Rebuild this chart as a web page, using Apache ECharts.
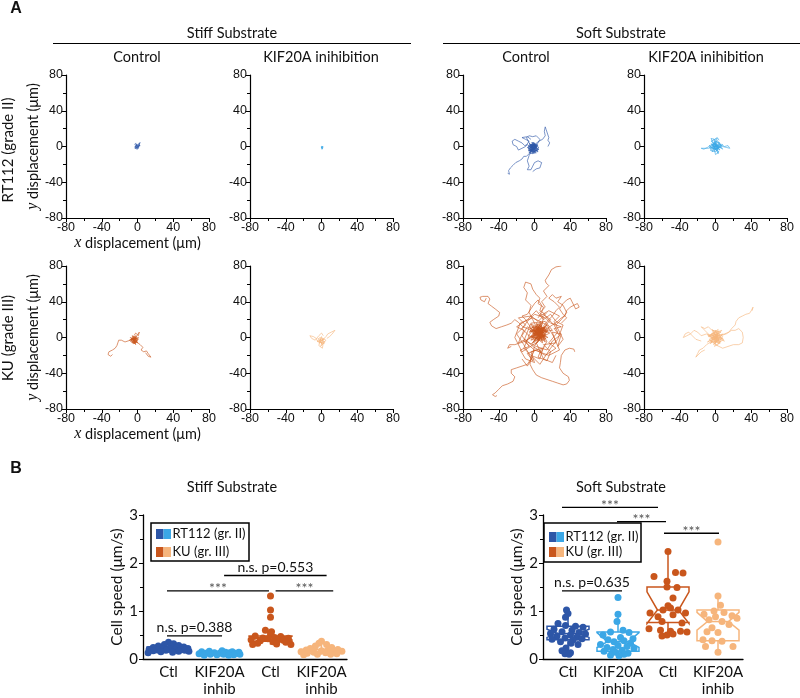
<!DOCTYPE html>
<html><head><meta charset="utf-8">
<script src="https://cdn.jsdelivr.net/npm/echarts@6/dist/echarts.min.js"></script>
<style>html,body{margin:0;padding:0;background:#fff}#c{width:800px;height:698px}</style>
</head><body><div id="c"></div>
<script>
// ---------------- Colours ----------------
const cDarkBlue = '#2d56a7', cLightBlue = '#3ba7e6', cDarkOrange = '#c9561c', cLightOrange = '#f6b57c';

// ---------------- Panel A: trajectories (x, y in µm) ----------------
const stiffCtlRT112 = [
  [[0,0],[1,2],[-1,3],[-2,1],[-1,-2],[1,-1],[2,1],[3,3],[2,4],[1,2],[0,-1],[-2,-2],[-3,0],[-2,2],[0,1]],
  [[0,0],[2,-1],[3,1],[1,3],[-1,2],[-3,-1],[-1,-3],[1,-2],[3,0],[2,2],[4,4],[3,5]],
  [[0,0],[-2,0],[-3,-2],[-1,-1],[0,-3],[2,-2],[1,0],[-1,1],[-3,2],[-2,4]]
];
const stiffKifRT112 = [
  [[0,0],[1,1],[0,2],[-1,1],[-1,-1],[1,-1],[2,0],[1,2],[-1,0],[0,-2],[1,-3]],
  [[0,0],[-1,2],[1,1],[2,-1],[0,-1],[-2,0],[-1,-2],[1,-2],[2,1]]
];
const softCtlRT112 = [
  [[-2,-2],[2,1],[-5,-4],[1,-6],[-6,1],[3,-2],[-3,3],[0,-7],[-7,-3],[2,2],[-4,-6],[4,-4],[-1,4],[-6,-7],[3,0],[-5,2],[1,-4],[-3,-1],[4,3],[-7,0],[0,-3]],
  [[-1,-3],[-5,1],[3,-5],[-3,5],[2,-1],[-7,-5],[1,3],[-2,-8],[5,-1],[-6,3],[0,-2],[-4,-5],[4,1],[-2,2],[-5,-8],[2,-7],[-8,-1],[1,0]],
  [[-2,-1],[1,-5],[-4,2],[3,1],[-6,-5],[0,4],[-3,-7],[5,-3],[-5,-1],[2,-3],[-1,5],[-7,-2],[4,-6],[-3,1]],
  [[-2,-2],[-6,-8],[-9,-11],[-12,-11],[-14,-14],[-17,-16],[-19,-15],[-21,-18],[-24,-21],[-25,-20],[-27,-24],[-29,-27],[-28,-31],[-30,-30]],
  [[0,2],[5,6],[7,5],[9,8],[12,12],[10,14],[11,17],[12,22],[13,19],[14,18],[16,10],[15,7],[17,4],[17,2],[15,0]],
  [[-2,-2],[-8,2],[-11,1],[-14,4],[-18,6],[-22,8],[-25,6],[-24,2],[-20,0],[-18,-4],[-14,-2],[-10,0],[-6,6],[-10,8],[-14,10],[-8,11],[-4,8]],
  [[-2,-2],[-6,-10],[-8,-16],[-6,-22],[-8,-26],[-4,-26],[-2,-22],[0,-18],[4,-16],[8,-18],[10,-20],[6,-24],[2,-25],[-2,-28]],
  [[-2,-2],[-6,4],[-9,10],[-6,12],[-2,11],[2,12],[4,10],[6,8],[4,4]]
];
const softKifRT112 = [
  [[0,0],[4,2],[-3,-3],[6,-1],[-5,3],[2,-5],[-1,6],[5,4],[-6,-2],[3,-3],[-2,8],[7,1],[-4,-6],[1,3],[-7,1],[4,-6],[0,-9],[-3,4],[8,-3],[2,7]],
  [[1,-1],[-4,2],[5,-4],[-2,5],[3,1],[-6,-4],[0,-6],[6,3],[-3,-1],[2,9],[-5,6],[4,-2],[-1,-3],[8,2],[-7,-1],[1,5],[3,-8],[-2,1]],
  [[0,0],[-4,-1],[-8,-2],[-12,-2],[-16,-2],[-13,-3],[-9,-1],[-6,1]],
  [[0,0],[4,-1],[8,0],[12,-1],[16,-2],[17,0],[14,1],[10,0],[7,2]],
  [[0,0],[-3,5],[-5,9],[-4,11],[-1,8],[2,10],[4,7]]
];
const stiffCtlKU = [
  [[-4,-3],[-1,-1],[-7,-5],[-2,-6],[-8,0],[0,-3],[-5,1],[-3,-7],[1,0],[-9,-3],[-2,2],[-6,-6],[-1,-4],[-7,-1],[0,-6],[-4,0],[-8,-5]],
  [[-3,-2],[-6,-1],[0,-5],[-5,-7],[-1,1],[-8,-3],[-3,-5],[1,-2],[-6,2],[-2,-8],[-7,-2],[-1,-1],[-5,-4]],
  [[-8,-3],[-14,-5],[-18,-3],[-21,-3],[-22,-6],[-23,-9],[-25,-12],[-28,-14],[-32,-16],[-33,-19],[-30,-21],[-28,-19]],
  [[-1,-5],[3,-8],[6,-11],[4,-14],[7,-16],[10,-15],[12,-18],[14,-20],[15,-22],[12,-21],[9,-17]],
  [[-3,-1],[0,3],[2,6],[1,2],[-2,5],[-4,2]]
];
const stiffKifKU = [
  [[0,-4],[3,-1],[-3,-6],[4,-5],[-4,-1],[1,-8],[-2,0],[5,-3],[-1,-10],[2,-2],[-5,-4],[3,-7],[0,1],[-3,-9],[1,-12],[0,-14],[-1,-11],[2,-6]],
  [[0,-4],[-4,-5],[-6,-1],[-9,1],[-13,2],[-11,-1],[-7,-3],[-3,2],[0,5],[2,2]],
  [[2,-2],[5,1],[7,4],[9,3],[11,6],[13,5],[15,8],[16,6],[12,4],[9,1],[6,-1]]
];
const softCtlKU = [
  [[5,5],[-2,8],[9,2],[1,12],[12,9],[-3,0],[8,14],[4,-4],[14,6],[-1,5],[10,-2],[3,10],[-6,6],[11,11],[2,-2],[7,16],[-4,-3],[13,3],[5,8],[0,1],[9,-6],[4,13],[-5,10],[15,0],[6,3]],
  [[6,4],[12,12],[0,7],[8,-1],[-3,12],[10,6],[3,-6],[16,10],[1,3],[7,18],[-7,2],[11,-3],[5,11],[-2,-2],[14,14],[4,0],[9,9],[-4,15],[2,5],[12,-5],[6,12],[-1,-6],[10,4]],
  [[4,6],[8,10],[-1,2],[13,7],[3,15],[6,-2],[-5,8],[11,1],[2,11],[17,5],[0,-4],[7,8],[-2,13],[12,-1],[5,3],[9,17],[-6,-1],[3,7],[14,11],[1,-8],[8,5]],
  [[5,5],[3,-1],[10,8],[-2,4],[6,14],[12,2],[0,10],[9,-4],[-4,1],[7,9],[15,7],[2,16],[4,2],[-3,-7],[11,12],[6,0],[-1,9],[13,-2],[8,6]],
  [[5,5],[18,20],[10,26],[22,14],[26,6],[16,-6],[24,-12],[12,-20],[2,-14],[-8,-18],[-2,-26],[-12,-8],[-20,4],[-10,14],[-18,22],[-4,24],[4,18],[14,28]],
  [[6,6],[-10,-4],[2,-10],[14,-14],[20,-4],[28,2],[22,10],[30,12],[18,16],[12,22],[0,26],[-8,18],[-14,10],[-6,2],[-12,-12],[-4,-20],[6,-24],[10,-10]],
  [[5,5],[-8,12],[-14,2],[-6,-10],[-16,-14],[-10,-24],[0,-28],[-4,-16],[8,-12],[4,-22],[14,-26],[18,-16],[10,-8],[24,-6],[20,6],[30,4],[26,-10],[32,-2],[22,18],[28,24],[16,30],[6,24]],
  [[4,4],[14,-4],[8,-16],[-2,-10],[-10,-2],[-18,-6],[-12,8],[-20,12],[-8,20],[2,30],[10,20],[18,26],[24,18],[32,14],[26,-2],[18,-12],[6,-30],[-2,-22],[-8,-32],[-14,-24]],
  [[6,6],[20,8],[12,18],[-4,16],[-12,-4],[0,-14],[16,-20],[28,-14],[22,0],[14,14],[-2,22],[-16,16],[-22,0],[-14,-16],[2,-6],[10,-24],[20,-28],[24,-20]],
  [[8,14],[10,22],[6,28],[9,31],[12,34],[8,40],[11,43],[14,46],[10,52],[16,58],[13,61],[12,64],[16,70],[19,76],[24,79],[30,80]],
  [[2,12],[-2,20],[-6,28],[-4,36],[-10,42],[-8,50],[-12,56],[-10,62],[-4,60],[-2,54],[2,48],[6,44],[4,38],[10,34],[8,28],[4,22]],
  [[14,10],[20,14],[26,18],[30,22],[34,24],[36,30],[40,34],[44,36],[48,38],[50,34],[46,32],[42,40],[40,44],[36,42],[32,38],[28,32],[32,26],[36,22],[30,16]],
  [[0,6],[-8,10],[-13,12],[-18,17],[-22,20],[-26,16],[-31,14],[-37,12],[-43,10],[-48,13],[-50,17],[-46,20],[-40,24],[-39,28],[-44,32],[-48,35],[-52,38],[-50,43],[-52,46],[-58,46],[-61,45],[-60,42],[-56,40],[-54,44]],
  [[0,-10],[-2,-18],[-4,-24],[-8,-30],[-14,-32],[-20,-34],[-26,-36],[-26,-40],[-22,-44],[-24,-49],[-30,-52],[-36,-54],[-40,-58],[-44,-62],[-47,-64],[-44,-66],[-42,-65]],
  [[0,-14],[-4,-22],[-5,-30],[-2,-36],[2,-42],[8,-45],[14,-47],[20,-49],[26,-51],[32,-53],[36,-52],[39,-48],[38,-44],[32,-40],[28,-34],[29,-28],[30,-20],[34,-14],[39,-12],[44,-13],[45,-16]],
  [[-5,0],[-10,-4],[-16,-6],[-22,-8],[-28,-8],[-30,-12],[-26,-10]],
  [[8,10],[14,18],[20,24],[24,30],[28,34],[22,40],[16,44],[20,48],[24,44],[30,46],[26,40],[32,36],[36,28],[30,20],[24,14]],
  [[0,4],[-6,14],[-10,20],[-14,24],[-8,26],[-4,32],[0,38],[4,42],[8,36],[6,30],[12,26]]
];
const softKifKU = [
  [[-1,-1],[5,3],[-6,-4],[3,-6],[-4,5],[7,-1],[-8,1],[1,7],[-2,-8],[8,4],[-5,-1],[4,-3],[-3,8],[6,6],[-9,-5],[2,0],[-1,-10],[9,-2],[-6,3],[3,9],[0,-5]],
  [[0,0],[-5,4],[6,-5],[-2,-4],[4,6],[-7,-2],[2,-9],[8,1],[-4,9],[1,-2],[-9,3],[5,-7],[-1,5],[7,8],[-6,-7],[3,3],[10,-4],[-3,1]],
  [[-2,0],[3,5],[-4,-3],[6,1],[-1,-7],[2,4],[-7,2],[4,-4],[0,8],[-5,-6],[8,-1],[-3,5]],
  [[4,2],[10,4],[15,6],[18,10],[22,14],[23,18],[26,22],[30,24],[34,26],[38,27],[40,30],[42,34],[41,30]],
  [[6,2],[12,4],[18,8],[22,8],[26,10],[30,6],[31,0],[30,-6],[26,-8],[20,-8],[14,-10],[8,-12],[4,-10],[0,-8]],
  [[-3,2],[-10,4],[-16,2],[-20,6],[-24,8],[-28,4],[-32,2],[-36,0],[-34,4],[-30,6],[-26,2],[-22,-2],[-16,-4]],
  [[-4,-4],[-10,-8],[-14,-12],[-18,-14],[-20,-18],[-22,-22],[-23,-24],[-20,-20],[-16,-16],[-12,-14]],
  [[-6,2],[-12,8],[-16,12],[-12,10],[-8,12],[-4,8]]
];

// ---------------- Panel B: cell speeds (µm/s) ----------------
const speedCategories = ['Ctl', 'KIF20A\ninhib', 'Ctl', 'KIF20A\ninhib'];
const speedTicks = [0, 1, 2, 3];
// Stiff substrate
const stiffRT112Ctl = [0.35,0.32,0.30,0.28,0.27,0.26,0.25,0.24,0.23,0.22,0.22,0.21,0.20,0.20,0.19,0.19,0.18,0.18,0.17,0.16,0.16,0.15,0.14,0.13];
const stiffRT112CtlJit = [0.0,0.1,-0.08,0.2,-0.2,0.05,0.3,-0.3,0.15,-0.12,0.38,0.02,-0.38,0.25,-0.22,0.12,0.32,-0.05,-0.3,0.2,0.4,-0.15,0.08,-0.4];
const stiffRT112Kif = [0.17,0.16,0.15,0.15,0.14,0.14,0.13,0.13,0.12,0.12,0.12,0.11,0.11,0.10,0.10,0.10,0.09,0.09,0.08,0.08];
const stiffRT112KifJit = [0.05,-0.2,0.25,-0.35,0.12,0.38,-0.1,0.2,-0.28,0.0,0.32,-0.4,0.15,-0.18,0.08,0.4,-0.05,0.28,-0.3,0.18];
const stiffKUCtl = [1.31,1.02,0.87,0.60,0.57,0.52,0.48,0.47,0.45,0.44,0.43,0.42,0.40,0.40,0.39,0.38,0.36,0.35,0.33,0.31,0.30,0.30];
const stiffKUCtlJit = [0.0,0.0,0.0,-0.1,0.02,0.0,-0.3,0.2,0.08,-0.15,0.35,-0.05,0.15,-0.38,0.25,-0.2,0.05,0.3,-0.25,0.12,-0.35,0.4];
const stiffKUKif = [0.37,0.33,0.30,0.27,0.24,0.22,0.20,0.19,0.18,0.17,0.16,0.15,0.14,0.14,0.13,0.12,0.11,0.10,0.10,0.09];
const stiffKUKifJit = [0.0,-0.05,0.1,-0.12,0.2,-0.22,0.32,-0.3,0.12,0.0,0.4,-0.4,0.22,-0.15,0.08,-0.28,0.3,-0.08,0.18,-0.35];
// Soft substrate
const softRT112Ctl = [1.02,0.95,0.87,0.74,0.70,0.68,0.66,0.62,0.60,0.57,0.55,0.53,0.52,0.50,0.48,0.46,0.44,0.42,0.41,0.40,0.36,0.33,0.30,0.23,0.17,0.13,0.11,0.10];
const softRT112CtlJit = [-0.03,0.0,-0.05,-0.2,-0.05,0.15,0.3,-0.28,0.08,-0.12,0.22,-0.35,0.35,0.05,-0.22,0.18,-0.06,0.28,-0.32,0.1,-0.15,0.06,0.2,-0.04,-0.12,0.05,-0.06,0.02];
const softRT112Kif = [1.28,0.93,0.78,0.60,0.56,0.55,0.50,0.45,0.42,0.40,0.38,0.36,0.33,0.30,0.28,0.26,0.24,0.22,0.20,0.18,0.16,0.14,0.12,0.10,0.08,0.07];
const softRT112KifJit = [0.0,0.0,-0.02,0.1,-0.15,0.22,-0.3,0.05,0.3,-0.2,0.12,-0.08,0.25,-0.35,0.0,0.18,-0.22,0.32,-0.1,0.08,-0.28,-0.05,0.2,0.12,-0.15,0.02];
const softKUCtl = [2.24,1.80,1.79,1.72,1.62,1.50,1.49,1.27,1.11,1.06,1.02,1.02,0.96,0.96,0.92,0.88,0.78,0.75,0.63,0.60,0.58,0.58,0.56,0.50,0.48,0.52];
const softKUCtlJit = [0.0,0.15,0.3,-0.28,-0.02,-0.02,0.18,0.1,0.0,0.05,-0.1,0.2,-0.36,0.35,0.1,-0.2,-0.12,0.28,-0.38,-0.15,0.05,0.25,0.38,-0.02,-0.12,0.1];
const softKUKif = [2.44,1.31,1.12,1.00,0.97,0.93,0.90,0.88,0.85,0.82,0.78,0.72,0.65,0.57,0.55,0.40,0.38,0.37,0.26,0.26,0.14];
const softKUKifJit = [0.0,0.0,0.05,-0.08,0.12,-0.28,0.28,-0.05,0.38,-0.18,0.08,0.22,-0.12,-0.22,0.0,-0.3,-0.12,0.08,-0.25,0.3,0.0];
// Notched box summaries: [whiskerLow, q1, notchLow, median, notchHigh, q3, whiskerHigh]
const stiffBoxes = [
  [0.13,0.18,0.19,0.21,0.23,0.25,0.35],
  [0.08,0.10,0.11,0.12,0.13,0.14,0.17],
  [0.30,0.37,0.40,0.44,0.47,0.48,0.60],
  [0.09,0.12,0.13,0.16,0.19,0.20,0.30]
];
const softBoxes = [
  [0.10,0.40,0.45,0.53,0.62,0.68,1.02],
  [0.07,0.16,0.24,0.36,0.55,0.56,0.93],
  [0.50,0.76,0.74,1.02,1.40,1.50,2.24],
  [0.14,0.38,0.60,0.78,0.97,1.02,1.31]
];
// Significance bars: [xStart, xEnd, y] in category units / µm/s
const stiffSig = [[0.47,1.55,0.48],[0.47,2.47,1.42],[2.6,3.73,1.42],[1.59,3.6,1.74]];
const stiffSigText = ['n.s. p=0.388','***','***','n.s. p=0.553'];
const softSig = [[0.38,2.3,3.16],[1.48,2.46,2.86],[2.42,3.52,2.62],[0.38,1.58,1.42]];
const softSigText = ['***','***','***','n.s. p=0.635'];

// ---------------- Build chart ----------------
const chart = echarts.init(document.getElementById('c'), null, {renderer: 'canvas'});
const FONT = 'Lato';
const TICKFONT = 'Liberation Sans';
const grids = [], xAxes = [], yAxes = [], series = [];

const colL = [66, 250, 463, 644];
const rowT = [75, 266];
const trajPlots = [
  [stiffCtlRT112, cDarkBlue], [stiffKifRT112, cLightBlue], [softCtlRT112, cDarkBlue], [softKifRT112, cLightBlue],
  [stiffCtlKU, cDarkOrange], [stiffKifKU, cLightOrange], [softCtlKU, cDarkOrange], [softKifKU, cLightOrange]
];
trajPlots.forEach(([tracks, color], i) => {
  const r = Math.floor(i / 4), c = i % 4;
  grids.push({left: colL[c], top: rowT[r], width: 143, height: 143, containLabel: false});
  const axisCommon = {
    gridIndex: i, type: 'value', min: -80, max: 80, interval: 40,
    axisLine: {show: true, onZero: false, lineStyle: {color: '#000', width: 1.2}},
    axisTick: {show: true, length: 4, lineStyle: {color: '#000', width: 1}},
    minorTick: {show: true, splitNumber: 2, length: 3, lineStyle: {color: '#000', width: 1}},
    splitLine: {show: false}, minorSplitLine: {show: false},
    axisLabel: {color: '#111', fontSize: 12.5, fontFamily: TICKFONT, margin: 3, showMinLabel: true, showMaxLabel: true}
  };
  const xa = Object.assign({}, axisCommon, {position: 'bottom'});
  const ya = Object.assign({}, axisCommon, {position: 'left'});
  if (c === 0) {
    xa.name = '{i|x} displacement (μm)';
    xa.nameLocation = 'middle'; xa.nameGap = 15;
    xa.nameTextStyle = {fontSize: 14.5, fontFamily: FONT, color: '#111', rich: {i: {fontFamily: 'Liberation Serif', fontStyle: 'italic', fontSize: 16, color: '#111'}}};
    ya.name = '{i|y} displacement (μm)';
    ya.nameLocation = 'middle'; ya.nameGap = 22;
    ya.nameTextStyle = {fontSize: 14.5, fontFamily: FONT, color: '#111', rich: {i: {fontFamily: 'Liberation Serif', fontStyle: 'italic', fontSize: 16, color: '#111'}}};
  }
  xAxes.push(xa); yAxes.push(ya);
  const lw = (i === 1) ? 1.6 : 0.7;
  tracks.forEach(t => series.push({
    type: 'line', xAxisIndex: i, yAxisIndex: i, data: t, showSymbol: false, symbol: 'none', smooth: false,
    lineStyle: {color, width: lw, opacity: 0.9}, silent: true, animation: false, z: 2
  }));
});

// Panel B grids
const bPlots = [
  {left: 143, top: 515, width: 204, height: 150, boxes: stiffBoxes, sig: stiffSig, sigText: stiffSigText,
   pts: [[stiffRT112Ctl, stiffRT112CtlJit], [stiffRT112Kif, stiffRT112KifJit], [stiffKUCtl, stiffKUCtlJit], [stiffKUKif, stiffKUKifJit]]},
  {left: 543, top: 515, width: 200, height: 148, boxes: softBoxes, sig: softSig, sigText: softSigText,
   pts: [[softRT112Ctl, softRT112CtlJit], [softRT112Kif, softRT112KifJit], [softKUCtl, softKUCtlJit], [softKUKif, softKUKifJit]]}
];
const groupColors = [cDarkBlue, cLightBlue, cDarkOrange, cLightOrange];
bPlots.forEach((p, k) => {
  const gi = grids.length;
  grids.push({left: p.left, top: p.top, width: p.width, height: p.height});
  xAxes.push({
    gridIndex: gi, type: 'category', data: speedCategories, position: 'bottom',
    axisLine: {show: true, onZero: false, lineStyle: {color: '#000', width: 1.3}},
    axisTick: {show: false},
    axisLabel: {color: '#111', fontSize: 15, fontFamily: FONT, margin: 5, lineHeight: 17, interval: 0}
  });
  const valAxis = xAxes.length;
  xAxes.push({gridIndex: gi, type: 'value', min: 0, max: 4, show: false});
  const yi = yAxes.length;
  yAxes.push({
    gridIndex: gi, type: 'value', min: speedTicks[0], max: speedTicks[speedTicks.length - 1], interval: 1,
    axisLine: {show: true, onZero: false, lineStyle: {color: '#000', width: 1.3}},
    axisTick: {show: true, length: 4, lineStyle: {color: '#000'}},
    minorTick: {show: true, splitNumber: 2, length: 3, lineStyle: {color: '#000'}},
    splitLine: {show: false},
    axisLabel: {color: '#111', fontSize: 15, fontFamily: FONT, margin: 5},
    name: 'Cell speed (μm/s)', nameLocation: 'middle', nameGap: 17,
    nameTextStyle: {fontSize: 15.5, fontFamily: FONT, color: '#111'}
  });
  // notched boxes
  series.push({
    type: 'custom', xAxisIndex: valAxis, yAxisIndex: yi, clip: false, silent: true, animation: false, z: 3,
    data: p.boxes.map((b, i) => [i].concat(b)),
    renderItem: (params, api) => {
      const idx = api.value(0);
      const col = groupColors[idx];
      const cxv = idx + 0.5;
      const hw = api.size([0.42, 0])[0];
      const cx = api.coord([cxv, 0])[0];
      const y = v => api.coord([cxv, v])[1];
      const wlo = api.value(1), q1 = api.value(2), nlo = api.value(3), med = api.value(4), nhi = api.value(5), q3 = api.value(6), whi = api.value(7);
      const pts = [[cx - hw, y(q3)], [cx + hw, y(q3)], [cx + hw, y(nhi)], [cx + hw * 0.5, y(med)], [cx + hw, y(nlo)], [cx + hw, y(q1)],
                   [cx - hw, y(q1)], [cx - hw, y(nlo)], [cx - hw * 0.5, y(med)], [cx - hw, y(nhi)]];
      const st = {stroke: col, lineWidth: 1.5, fill: null};
      return {type: 'group', children: [
        {type: 'polygon', shape: {points: pts}, style: {stroke: col, lineWidth: 1.5, fill: 'rgba(0,0,0,0)'}},
        {type: 'line', shape: {x1: cx - hw * 0.5, y1: y(med), x2: cx + hw * 0.5, y2: y(med)}, style: st},
        {type: 'line', shape: {x1: cx, y1: y(q3), x2: cx, y2: y(whi)}, style: st},
        {type: 'line', shape: {x1: cx, y1: y(q1), x2: cx, y2: y(wlo)}, style: st}
      ]};
    }
  });
  // points
  p.pts.forEach(([vals, jit], gIdx) => {
    series.push({
      type: 'scatter', xAxisIndex: valAxis, yAxisIndex: yi, symbolSize: 7, silent: true, animation: false, z: 4,
      itemStyle: {color: groupColors[gIdx], opacity: 1},
      data: vals.map((v, j) => [gIdx + 0.5 + jit[j], v])
    });
  });
  // significance bars
  series.push({
    type: 'custom', xAxisIndex: valAxis, yAxisIndex: yi, clip: false, silent: true, animation: false, z: 5,
    data: p.sig.map((s, i) => [s[0], s[1], s[2], i]),
    renderItem: (params, api) => {
      const a = api.coord([api.value(0), api.value(2)]);
      const b = api.coord([api.value(1), api.value(2)]);
      const txt = p.sigText[api.value(3)];
      const star = txt === '***';
      return {type: 'group', children: [
        {type: 'line', shape: {x1: a[0], y1: a[1], x2: b[0], y2: a[1]}, style: {stroke: '#000', lineWidth: 1.3}},
        {type: 'text', style: {text: txt, x: (a[0] + b[0]) / 2, y: star ? a[1] + 5 : a[1] - 1, align: 'center', verticalAlign: 'bottom',
          fontSize: 14, fontFamily: FONT, fill: star ? '#555' : '#111'}}
      ]};
    }
  });
});

// Annotation graphics
const txt = (x, y, text, o) => Object.assign({type: 'text', x, y, style: Object.assign({text, align: 'center', verticalAlign: 'middle', fontSize: 14.5, fontFamily: FONT, fill: '#111'}, o || {})});
const rotTxt = (x, y, text, o) => ({type: 'text', x, y, rotation: Math.PI / 2, style: Object.assign({text, align: 'center', verticalAlign: 'middle', fontSize: 15, fontFamily: FONT, fill: '#111'}, o || {})});
const hline = (x1, x2, y) => ({type: 'line', shape: {x1, y1: y, x2, y2: y}, style: {stroke: '#000', lineWidth: 1.2}});
const legend = (x, y, w, h, r1, r2) => ({type: 'group', children: [
  {type: 'rect', shape: {x, y, width: w, height: h}, style: {fill: '#fff', stroke: '#000', lineWidth: 1.5}, z: 10},
  {type: 'rect', shape: {x: x + 5, y: r1 - 5, width: 7.5, height: 10}, style: {fill: cDarkBlue}, z: 11},
  {type: 'rect', shape: {x: x + 12.5, y: r1 - 5, width: 7.5, height: 10}, style: {fill: cLightBlue}, z: 11},
  {type: 'rect', shape: {x: x + 5, y: r2 - 5, width: 7.5, height: 10}, style: {fill: cDarkOrange}, z: 11},
  {type: 'rect', shape: {x: x + 12.5, y: r2 - 5, width: 7.5, height: 10}, style: {fill: cLightOrange}, z: 11},
  {type: 'text', x: x + 21.5, y: r1, style: {text: 'RT112 (gr. II)', align: 'left', verticalAlign: 'middle', fontSize: 13, fontFamily: FONT, fill: '#111'}, z: 11},
  {type: 'text', x: x + 21.5, y: r2, style: {text: 'KU (gr. III)', align: 'left', verticalAlign: 'middle', fontSize: 13, fontFamily: FONT, fill: '#111'}, z: 11}
]});

const graphic = [
  txt(16, 9, 'A', {fontSize: 16, fontWeight: 'bold', fontFamily: 'Liberation Sans'}),
  txt(16, 469, 'B', {fontSize: 16, fontWeight: 'bold', fontFamily: 'Liberation Sans'}),
  txt(232, 33, 'Stiff Substrate'), hline(53, 411, 43.5),
  txt(621, 33, 'Soft Substrate'), hline(443, 800, 43.5),
  txt(137, 57, 'Control'), txt(321, 57, 'KIF20A inihibition'),
  txt(526, 57, 'Control'), txt(706, 57, 'KIF20A inihibition'),
  rotTxt(8, 150, 'RT112 (grade II)'), rotTxt(8, 338, 'KU (grade III)'),
  txt(232, 487, 'Stiff Substrate'), txt(621, 487, 'Soft Substrate'),
  legend(151, 523, 98, 38, 534, 552),
  legend(544, 523, 97, 39, 537, 552)
];

chart.setOption({
  animation: false,
  backgroundColor: '#fff',
  grid: grids, xAxis: xAxes, yAxis: yAxes, series, graphic
});
</script></body></html>
